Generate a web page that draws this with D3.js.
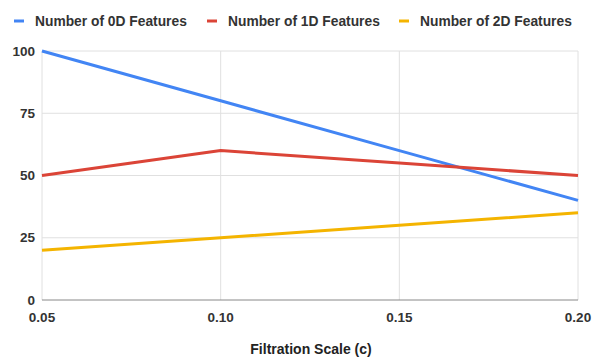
<!DOCTYPE html>
<html>
<head>
<meta charset="utf-8">
<script src="https://cdn.jsdelivr.net/npm/d3@7"></script>
<style>
  body { margin: 0; background: #fff; }
  svg { display: block; font-family: "Liberation Sans", Arial, sans-serif; }
</style>
</head>
<body>
<svg id="chart" width="592" height="358"></svg>
<script>
// Filtration scales and feature counts per dimension
const scales = [0.05, 0.10, 0.15, 0.20];
const features0D = [100, 80, 60, 40];
const features1D = [50, 60, 55, 50];
const features2D = [20, 25, 30, 35];
const yTicks = [0, 25, 50, 75, 100];
const seriesNames = ["Number of 0D Features", "Number of 1D Features", "Number of 2D Features"];
const seriesColors = ["#4285F4", "#DB4437", "#F4B400"];

const svg = d3.select("#chart");
const margin = { left: 42, right: 14, top: 51, bottom: 58 };
const W = 592, H = 358;

const x = d3.scaleLinear().domain([0.05, 0.20]).range([margin.left, W - margin.right]);
const y = d3.scaleLinear().domain([0, 100]).range([H - margin.bottom, margin.top]);

const textColor = "#333";

// Horizontal gridlines
svg.append("g").selectAll("line").data(yTicks.filter(d => d !== 0)).join("line")
  .attr("x1", x(0.05)).attr("x2", x(0.20))
  .attr("y1", d => y(d)).attr("y2", d => y(d))
  .attr("stroke", "#e0e0e0").attr("stroke-width", 1);

// Vertical gridlines
svg.append("g").selectAll("line").data(scales).join("line")
  .attr("x1", d => x(d)).attr("x2", d => x(d))
  .attr("y1", y(100)).attr("y2", y(0))
  .attr("stroke", "#e0e0e0").attr("stroke-width", 1);

// Baseline
svg.append("line")
  .attr("x1", x(0.05)).attr("x2", x(0.20))
  .attr("y1", y(0)).attr("y2", y(0))
  .attr("stroke", "#888").attr("stroke-width", 1);

// Y axis labels
svg.append("g").selectAll("text").data(yTicks).join("text")
  .attr("x", x(0.05) - 7).attr("y", d => y(d))
  .attr("dy", "0.35em").attr("text-anchor", "end")
  .attr("font-size", 13.5).attr("font-weight", "bold").attr("fill", textColor)
  .text(d => d);

// X axis labels
svg.append("g").selectAll("text").data(scales).join("text")
  .attr("x", d => x(d)).attr("y", y(0) + 17)
  .attr("dy", "0.35em")
  .attr("text-anchor", "middle")
  .attr("font-size", 13.5).attr("font-weight", "bold").attr("fill", textColor)
  .text(d => d3.format(".2f")(d));

// X axis title
svg.append("text")
  .attr("x", 311).attr("y", 349).attr("dy", "0.35em")
  .attr("text-anchor", "middle")
  .attr("font-size", 14).attr("font-weight", "bold").attr("fill", "#222")
  .text("Filtration Scale (c)");

// Series lines
const line = d3.line().x((d, i) => x(scales[i])).y(d => y(d));
[features0D, features1D, features2D].forEach((vals, k) => {
  svg.append("path").datum(vals)
    .attr("d", line)
    .attr("fill", "none")
    .attr("stroke", seriesColors[k])
    .attr("stroke-width", 3)
    .attr("stroke-linejoin", "round");
});

// Legend
const legendX = [14, 207, 399];
const legend = svg.append("g");
seriesNames.forEach((name, k) => {
  legend.append("line")
    .attr("x1", legendX[k]).attr("x2", legendX[k] + 10)
    .attr("y1", 21).attr("y2", 21)
    .attr("stroke", seriesColors[k]).attr("stroke-width", 3);
  legend.append("text")
    .attr("x", legendX[k] + 21).attr("y", 21).attr("dy", "0.35em")
    .attr("font-size", 13.8).attr("font-weight", "bold").attr("fill", textColor)
    .text(name);
});
</script>
</body>
</html>
